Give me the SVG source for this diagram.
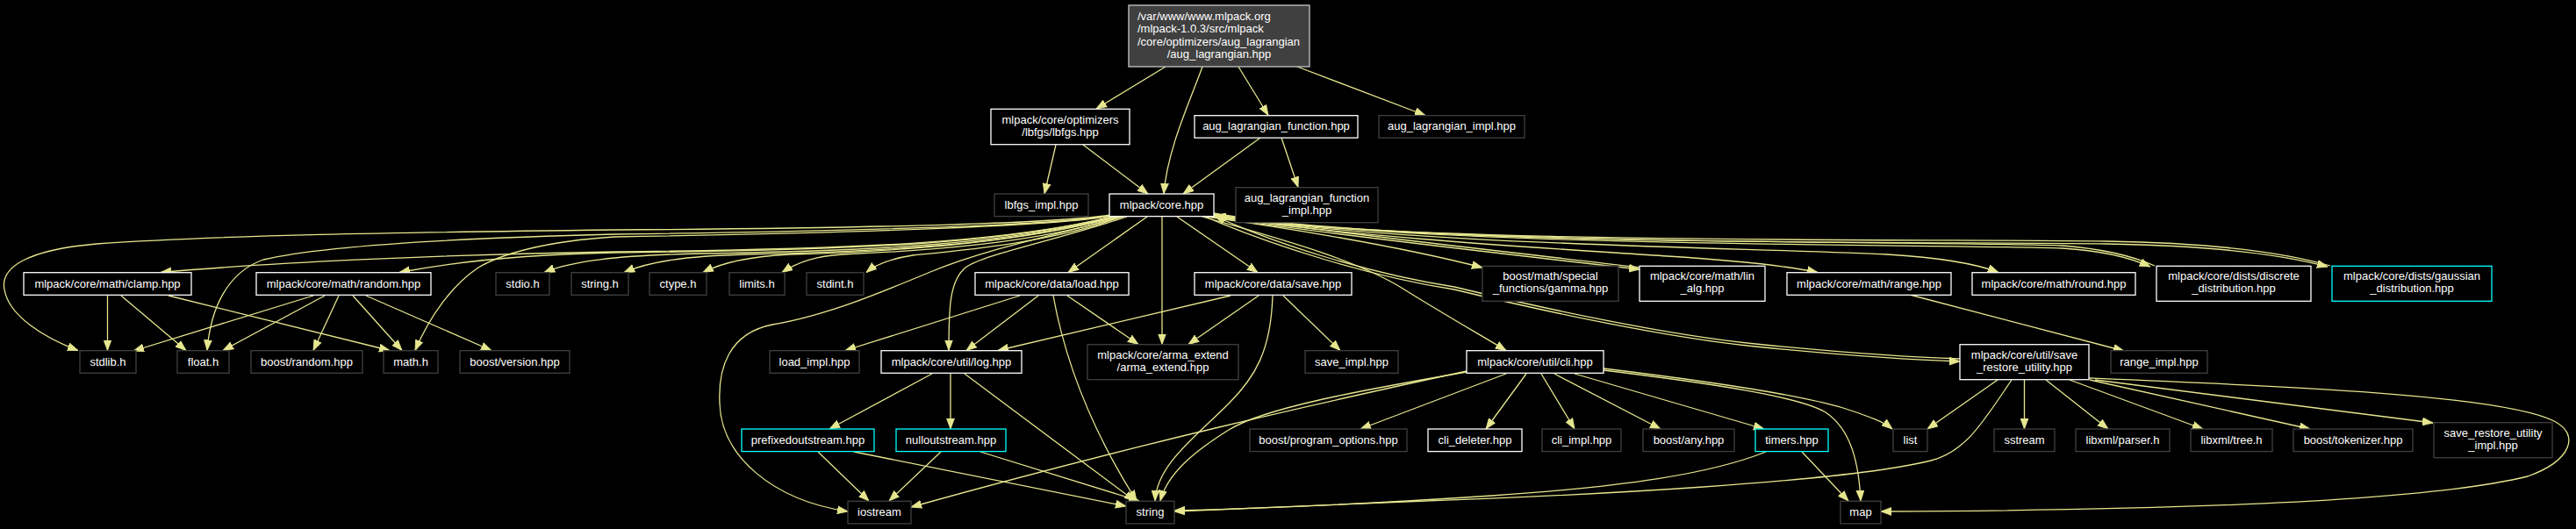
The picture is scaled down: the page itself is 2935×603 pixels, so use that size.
<svg xmlns="http://www.w3.org/2000/svg" width="2935" height="603" viewBox="0 0 2935 603">
<style>
rect.b{fill:#000;stroke-width:1.3}
.w{stroke:#ffffff}
.d{stroke:#404040}
.c{stroke:#00ffff}
text{font-family:"Liberation Sans",Arial,sans-serif;font-size:13px;fill:#ffffff;text-anchor:middle}
text.l{text-anchor:start}
#edges path{fill:none;stroke:#e6e68f;stroke-width:1.3;marker-end:url(#ah)}
</style>
<defs>
<marker id="ah" markerUnits="userSpaceOnUse" viewBox="0 0 12 10" refX="12" refY="5" markerWidth="12" markerHeight="10" orient="auto">
<path d="M0,0.5 L12,5 L0,9.5 z" fill="#e6e68f" stroke="#e6e68f" stroke-width="0.8"/>
</marker>
</defs>
<rect x="0" y="0" width="2935" height="603" fill="#000"/>

<g id="edges">
<path d="M1328,76 L1249,124"/>
<path d="M1370,76 C1356,115 1330,170 1326,221"/>
<path d="M1411,76 L1445,131.5"/>
<path d="M1478,76 L1624,131.5"/>
<path d="M1203,165 L1190,221"/>
<path d="M1234,165 L1308,221"/>
<path d="M1436,157 L1348,221"/>
<path d="M1460,157 L1479,213.5"/>

<path d="M1307,247 L1217,310.5"/>
<path d="M1341,247 L1433,310.5"/>
<path d="M1324,247 L1324,392.5"/>

<path d="M1265,245 C1200,255 1000,260 700,262 C450,265 250,268 110,278 C30,285 0,305 5,330 C10,360 50,385 89,399.5"/>
<path d="M1265,246 C1200,257 1000,263 700,267 C500,272 360,282 300,296 C260,310 240,350 236,399.5"/>
<path d="M1266,246 C1200,258 1000,265 700,270 C620,275 570,290 545,305 C515,325 490,360 473,399.5"/>
<path d="M1268,247 C1150,275 1000,284 700,287 C500,290 300,300 183,310.5"/>
<path d="M1268,247 C1150,276 1000,285 700,288 C600,290 520,298 455,310.5"/>
<path d="M1270,247 C1150,278 1000,286 800,289 C700,291 650,298 620,310.5"/>
<path d="M1272,247 C1150,280 1000,287 850,290 C780,292 740,298 711,310.5"/>
<path d="M1274,247 C1150,280 1000,287 900,290 C860,292 825,298 801,310.5"/>
<path d="M1276,247 C1180,278 1050,286 960,290 C930,292 910,298 891,310.5"/>
<path d="M1278,247 C1200,276 1100,285 1040,291 C1020,294 1000,300 987,310.5"/>
<path d="M1280,247 C1200,268 1120,285 1060,310 C1000,335 940,360 880,370 C830,380 818,420 820,460 C822,520 880,570 966,583"/>
<path d="M1284,247 C1200,275 1120,290 1100,305 C1082,320 1081,350 1081,399.5"/>

<path d="M1375,247 C1480,262 1600,282 1689,305"/>
<path d="M1378,247 C1500,265 1700,288 1868,307"/>
<path d="M1870,305 C1700,285 1500,263 1385,246"/>
<path d="M1380,246 C1550,272 1800,285 1900,292 C1980,297 2030,302 2071,310.5"/>
<path d="M1382,245 C1600,280 2000,282 2150,290 C2200,293 2250,300 2277,310.5"/>
<path d="M1383,244 C1600,282 2200,278 2350,283 C2400,286 2430,295 2450,304"/>
<path d="M1383,243 C1600,282 2200,275 2400,278 C2520,280 2600,290 2652,304"/>
<path d="M2455,303 C2430,292 2400,284 2350,280 C2200,275 1600,279 1384,246"/>
<path d="M2655,303 C2600,287 2520,277 2400,275 C2200,272 1600,279 1384,246"/>
<path d="M1370,247 C1450,270 1545,295 1600,330 C1640,355 1680,378 1716,399.5"/>
<path d="M1373,247 C1450,280 1560,315 1657,330 C1760,355 1900,385 2000,395 C2100,405 2170,410 2233,412"/>
<path d="M2233,409 C2170,407 2100,402 2000,392 C1900,382 1760,352 1657,327 C1560,312 1450,277 1384,246"/>

<path d="M1402,337 L1137,399.5"/>
<path d="M1434,337 L1354,392.5"/>
<path d="M1462,337 L1527,399.5"/>
<path d="M1450,337 C1448,400 1430,430 1400,460 C1360,500 1318,530 1316,571"/>

<path d="M1162,337 L963,399.5"/>
<path d="M1183,337 L1101,399.5"/>
<path d="M1216,337 L1297,392.5"/>
<path d="M1200,337 C1215,420 1250,500 1295,571"/>

<path d="M122.5,337 L122.5,399.5"/>
<path d="M138,337 L212,399.5"/>
<path d="M192,337 L444,399.5"/>
<path d="M357,337 L152,400"/>
<path d="M370,337 L254,399.5"/>
<path d="M386,337 L357,399.5"/>
<path d="M402,337 L458,399.5"/>
<path d="M417,337 L560,399.5"/>

<path d="M1062,426 L945,489"/>
<path d="M1083,426 L1083,489"/>
<path d="M1099,426 L1293,571"/>
<path d="M932,515 L990,571"/>
<path d="M973,515 L1283,577"/>
<path d="M1072,515 L1013,571"/>
<path d="M1117,515 L1298,571"/>

<path d="M1671,423 C1500,460 1300,505 1038,578"/>
<path d="M1671,424 C1550,445 1440,465 1400,490 C1360,515 1330,540 1322,571"/>
<path d="M1716,426 L1550,489"/>
<path d="M1739,426 L1693,489"/>
<path d="M1756,426 L1794,489"/>
<path d="M1771,426 L1892,489"/>
<path d="M1794,426 L2010,489"/>
<path d="M1827,420 C1950,435 2050,450 2100,465 C2130,475 2145,480 2156,489"/>
<path d="M1827,422 C1950,437 2050,452 2080,470 C2110,490 2118,530 2120,571"/>

<path d="M2012,515 C1950,540 1850,555 1700,565 C1550,575 1420,580 1338,582"/>
<path d="M2053,515 L2106,571"/>
<path d="M2292,433 C2260,480 2240,515 2200,525 C2100,550 1800,565 1600,572 C1480,577 1400,580 1338,583"/>
<path d="M2276,433 L2196,489"/>
<path d="M2306.5,433 L2306.5,489"/>
<path d="M2331,433 L2402,489"/>
<path d="M2358,433 L2510,489"/>
<path d="M2381,433 L2632,489"/>
<path d="M2387,433 L2772,482"/>
<path d="M2380,431 C2600,440 2850,450 2910,480 C2940,495 2930,525 2880,543 C2750,575 2400,582 2143,583"/>
<path d="M2176,336 L2420,400"/>
</g>

<g id="root"><rect class="b w" x="1286" y="6" width="206" height="70" style="fill:#404040;stroke:#c8c8c8"/>
<text class="l" x="1296" y="22.5">/var/www/www.mlpack.org</text>
<text class="l" x="1296" y="37">/mlpack-1.0.3/src/mlpack</text>
<text class="l" x="1296" y="51.5">/core/optimizers/aug_lagrangian</text>
<text x="1389" y="66">/aug_lagrangian.hpp</text></g>

<g id="lbfgs"><rect class="b w" x="1129" y="124.3" width="158" height="40.4"/><text x="1208" y="140.5">mlpack/core/optimizers</text><text x="1208" y="155">/lbfgs/lbfgs.hpp</text></g>
<g id="aug_function"><rect class="b w" x="1361" y="131.7" width="186" height="25.4"/><text x="1454" y="148.4">aug_lagrangian_function.hpp</text></g>
<g id="aug_impl"><rect class="b d" x="1571" y="131.7" width="166" height="25.4"/><text x="1654" y="148.4">aug_lagrangian_impl.hpp</text></g>
<g id="lbfgs_impl"><rect class="b d" x="1133" y="221" width="107" height="25.6"/><text x="1186.5" y="237.8">lbfgs_impl.hpp</text></g>
<g id="core"><rect class="b w" x="1264" y="221" width="119" height="25.6"/><text x="1323.5" y="237.8">mlpack/core.hpp</text></g>
<g id="aug_function_impl"><rect class="b d" x="1408" y="213.7" width="162" height="40"/><text x="1489" y="229.5">aug_lagrangian_function</text><text x="1489" y="244">_impl.hpp</text></g>

<g id="clamp"><rect class="b w" x="27" y="310.7" width="191" height="25.6"/><text x="122.5" y="327.5">mlpack/core/math/clamp.hpp</text></g>
<g id="random"><rect class="b w" x="292" y="310.7" width="199" height="25.6"/><text x="391.5" y="327.5">mlpack/core/math/random.hpp</text></g>
<g id="stdio"><rect class="b d" x="565" y="310.7" width="61" height="25.6"/><text x="595.5" y="327.5">stdio.h</text></g>
<g id="string_h"><rect class="b d" x="651" y="310.7" width="65" height="25.6"/><text x="683.5" y="327.5">string.h</text></g>
<g id="ctype"><rect class="b d" x="740" y="310.7" width="65" height="25.6"/><text x="772.5" y="327.5">ctype.h</text></g>
<g id="limits"><rect class="b d" x="831" y="310.7" width="63" height="25.6"/><text x="862.5" y="327.5">limits.h</text></g>
<g id="stdint"><rect class="b d" x="919" y="310.7" width="65" height="25.6"/><text x="951.5" y="327.5">stdint.h</text></g>
<g id="load"><rect class="b w" x="1111" y="310.7" width="175" height="25.6"/><text x="1198.5" y="327.5">mlpack/core/data/load.hpp</text></g>
<g id="save"><rect class="b w" x="1361" y="310.7" width="179" height="25.6"/><text x="1450.5" y="327.5">mlpack/core/data/save.hpp</text></g>
<g id="gamma"><rect class="b d" x="1689" y="303.3" width="155" height="40"/><text x="1766.5" y="318.5">boost/math/special</text><text x="1766.5" y="333">_functions/gamma.hpp</text></g>
<g id="lin_alg"><rect class="b w" x="1868" y="303.3" width="143" height="40"/><text x="1939.5" y="318.5">mlpack/core/math/lin</text><text x="1939.5" y="333">_alg.hpp</text></g>
<g id="range"><rect class="b w" x="2036" y="310.7" width="187" height="25.6"/><text x="2129.5" y="327.5">mlpack/core/math/range.hpp</text></g>
<g id="round"><rect class="b w" x="2247" y="310.7" width="186" height="25.6"/><text x="2340" y="327.5">mlpack/core/math/round.hpp</text></g>
<g id="discrete"><rect class="b w" x="2457" y="303.3" width="176" height="40"/><text x="2545" y="318.5">mlpack/core/dists/discrete</text><text x="2545" y="333">_distribution.hpp</text></g>
<g id="gaussian"><rect class="b c" x="2657" y="303.3" width="182" height="40"/><text x="2748" y="318.5">mlpack/core/dists/gaussian</text><text x="2748" y="333">_distribution.hpp</text></g>

<g id="stdlib"><rect class="b d" x="91" y="399.7" width="64" height="25.6"/><text x="123" y="416.5">stdlib.h</text></g>
<g id="float"><rect class="b d" x="202" y="399.7" width="59" height="25.6"/><text x="231.5" y="416.5">float.h</text></g>
<g id="boost_random"><rect class="b d" x="286" y="399.7" width="127" height="25.6"/><text x="349.5" y="416.5">boost/random.hpp</text></g>
<g id="math"><rect class="b d" x="437" y="399.7" width="62" height="25.6"/><text x="468" y="416.5">math.h</text></g>
<g id="boost_version"><rect class="b d" x="524" y="399.7" width="125" height="25.6"/><text x="586.5" y="416.5">boost/version.hpp</text></g>
<g id="load_impl"><rect class="b d" x="877" y="399.7" width="102" height="25.6"/><text x="928" y="416.5">load_impl.hpp</text></g>
<g id="log"><rect class="b w" x="1004" y="399.7" width="160" height="25.6"/><text x="1084" y="416.5">mlpack/core/util/log.hpp</text></g>
<g id="arma_extend"><rect class="b d" x="1239" y="392.7" width="172" height="40"/><text x="1325" y="408.5">mlpack/core/arma_extend</text><text x="1325" y="423">/arma_extend.hpp</text></g>
<g id="save_impl"><rect class="b d" x="1487" y="399.7" width="106" height="25.6"/><text x="1540" y="416.5">save_impl.hpp</text></g>
<g id="cli"><rect class="b w" x="1671" y="399.7" width="156" height="25.6"/><text x="1749" y="416.5">mlpack/core/util/cli.hpp</text></g>
<g id="save_restore"><rect class="b w" x="2233" y="392.7" width="147" height="40"/><text x="2306.5" y="408.5">mlpack/core/util/save</text><text x="2306.5" y="423">_restore_utility.hpp</text></g>
<g id="range_impl"><rect class="b d" x="2405" y="399.7" width="110" height="25.6"/><text x="2460" y="416.5">range_impl.hpp</text></g>

<g id="prefixed"><rect class="b c" x="845" y="489" width="151" height="25.6"/><text x="920.5" y="505.8">prefixedoutstream.hpp</text></g>
<g id="null"><rect class="b c" x="1021" y="489" width="125" height="25.6"/><text x="1083.5" y="505.8">nulloutstream.hpp</text></g>
<g id="program_options"><rect class="b d" x="1424" y="489" width="179" height="25.6"/><text x="1513.5" y="505.8">boost/program_options.hpp</text></g>
<g id="cli_deleter"><rect class="b w" x="1627" y="489" width="107" height="25.6"/><text x="1680.5" y="505.8">cli_deleter.hpp</text></g>
<g id="cli_impl"><rect class="b d" x="1757" y="489" width="90" height="25.6"/><text x="1802" y="505.8">cli_impl.hpp</text></g>
<g id="boost_any"><rect class="b d" x="1872" y="489" width="104" height="25.6"/><text x="1924" y="505.8">boost/any.hpp</text></g>
<g id="timers"><rect class="b c" x="2000" y="489" width="83" height="25.6"/><text x="2041.5" y="505.8">timers.hpp</text></g>
<g id="list"><rect class="b d" x="2157" y="489" width="39" height="25.6"/><text x="2176.5" y="505.8">list</text></g>
<g id="sstream"><rect class="b d" x="2272" y="489" width="69" height="25.6"/><text x="2306.5" y="505.8">sstream</text></g>
<g id="parser"><rect class="b d" x="2365" y="489" width="107" height="25.6"/><text x="2418.5" y="505.8">libxml/parser.h</text></g>
<g id="tree"><rect class="b d" x="2496" y="489" width="93" height="25.6"/><text x="2542.5" y="505.8">libxml/tree.h</text></g>
<g id="tokenizer"><rect class="b d" x="2613" y="489" width="136" height="25.6"/><text x="2681" y="505.8">boost/tokenizer.hpp</text></g>
<g id="sr_impl"><rect class="b d" x="2773" y="481.7" width="135" height="40"/><text x="2840.5" y="497.5">save_restore_utility</text><text x="2840.5" y="512">_impl.hpp</text></g>

<g id="iostream"><rect class="b d" x="966" y="571.3" width="72" height="25.6"/><text x="1002" y="588">iostream</text></g>
<g id="string"><rect class="b d" x="1283" y="571.3" width="55" height="25.6"/><text x="1310.5" y="588">string</text></g>
<g id="map"><rect class="b d" x="2097" y="571.3" width="46" height="25.6"/><text x="2120" y="588">map</text></g>
</svg>
